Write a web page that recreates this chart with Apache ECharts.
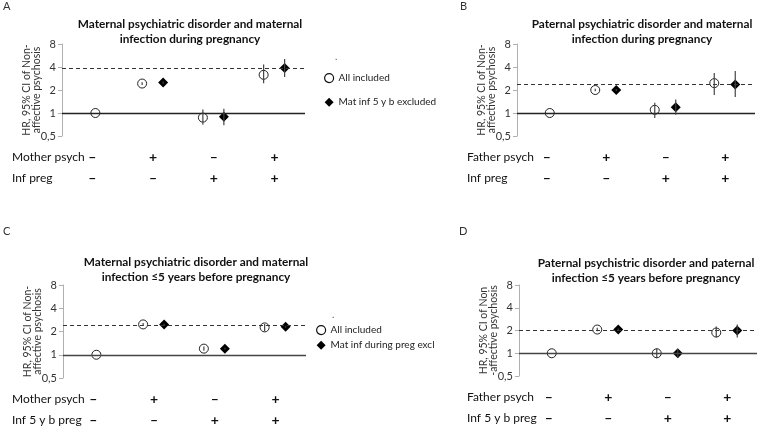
<!DOCTYPE html>
<html><head><meta charset="utf-8">
<script src="https://cdn.jsdelivr.net/npm/echarts@6/dist/echarts.min.js"></script>
<style>html,body{margin:0;padding:0;background:#fff}#c{width:758px;height:427px}</style>
</head><body><div id="c"></div>
<script>
// ---------- data ----------
const categories = ['1', '2', '3', '4'];
const row1Signs = ['–', '+', '–', '+'];
const row2Signs = ['–', '–', '+', '+'];

const panelLetters = ['A', 'B', 'C', 'D'];
const panelTitles = [
  'Maternal psychiatric disorder and maternal\ninfection during pregnancy',
  'Paternal psychiatric disorder and maternal\ninfection during pregnancy',
  'Maternal psychiatric disorder and maternal\ninfection ≤5 years before pregnancy',
  'Paternal psychistric disorder and paternal\ninfection ≤5 years before pregnancy'
];
const yAxisNames = [
  'HR, 95% CI of Non-\naffective psychosis',
  'HR, 95% CI of Non-\naffective psychosis',
  'HR, 95% CI of Non-\naffective psychosis',
  'HR, 95% CI of Non\n-affective psychosis'
];
const row1Labels = ['Mother psych', 'Father psych', 'Mother psych', 'Father psych'];
const row2Labels = ['Inf preg', 'Inf preg', 'Inf 5 y b preg', 'Inf 5 y b preg'];
const legendAllName = 'All included';
const legendExclNames = ['Mat inf 5 y b excluded', null, 'Mat inf during preg excl', null];

// Panel A
const aAllHR   = [1, 2.43, 0.87, 3.16];
const aAllLo   = [null, 2.33, 0.70, 2.45];
const aAllHi   = [null, 2.53, 1.11, 4.30];
const aExclHR  = [null, 2.50, 0.89, 3.88];
const aExclLo  = [null, 2.42, 0.69, 2.95];
const aExclHi  = [null, 2.58, 1.14, 5.10];
const aRef = 3.9;
// Panel B
const bAllHR   = [1, 2.00, 1.10, 2.46];
const bAllLo   = [null, 1.92, 0.86, 1.72];
const bAllHi   = [null, 2.08, 1.36, 3.34];
const bExclHR  = [null, 2.00, 1.19, 2.36];
const bExclLo  = [null, 1.94, 0.95, 1.62];
const bExclHi  = [null, 2.06, 1.50, 3.55];
const bRef = 2.38;
// Panel C
const cAllHR   = [1, 2.47, 1.20, 2.26];
const cAllLo   = [null, 2.36, 1.13, 2.02];
const cAllHi   = [null, 2.58, 1.28, 2.50];
const cExclHR  = [null, 2.47, 1.20, 2.30];
const cExclLo  = [null, 2.42, 1.17, 2.25];
const cExclHi  = [null, 2.52, 1.23, 2.35];
const cRef = 2.4;
// Panel D
const dAllHR   = [1, 2.06, 1.00, 1.88];
const dAllLo   = [null, 1.95, 0.86, 1.62];
const dAllHi   = [null, 2.18, 1.16, 2.26];
const dExclHR  = [null, 2.06, 1.00, 2.00];
const dExclLo  = [null, 2.00, 0.87, 1.62];
const dExclHi  = [null, 2.12, 1.14, 2.40];
const dRef = 2.03;

const panelData = [
  {all: aAllHR, allLo: aAllLo, allHi: aAllHi, ex: aExclHR, exLo: aExclLo, exHi: aExclHi, ref: aRef},
  {all: bAllHR, allLo: bAllLo, allHi: bAllHi, ex: bExclHR, exLo: bExclLo, exHi: bExclHi, ref: bRef},
  {all: cAllHR, allLo: cAllLo, allHi: cAllHi, ex: cExclHR, exLo: cExclLo, exHi: cExclHi, ref: cRef},
  {all: dAllHR, allLo: dAllLo, allHi: dAllHi, ex: dExclHR, exLo: dExclLo, exHi: dExclHi, ref: dRef}
];

// ---------- layout / style ----------
const FONT = 'Lato, "Open Sans", sans-serif';
const grids = [
  {left: 62, top: 44, width: 243, height: 92},
  {left: 517, top: 44, width: 238, height: 92},
  {left: 63, top: 285, width: 243, height: 93},
  {left: 519, top: 285, width: 238, height: 91}
];
const titlePos = [[190, 17], [642, 17], [196, 255], [646, 256]];
const letterPos = [[3, 1], [460, 1], [3, 226], [459, 226]];
const rowLabelX = [12, 467, 12, 467];
const legendPos = [[319, 68], null, [311, 320], null];
const legendGaps = [14, 5];
const dotPos = [[335, 52], null, [332, 310], null];
const ALL_OFF = -11, EX_OFF = 10, FIRST_OFF = 3;

function offFor(i, base) { return i === 0 ? FIRST_OFF : base; }

const option = {
  backgroundColor: '#fff',
  animation: false,
  textStyle: {fontFamily: FONT},
  grid: grids.map(g => Object.assign({containLabel: false}, g)),
  xAxis: [],
  yAxis: [],
  series: [],
  legend: [],
  graphic: []
};

grids.forEach((g, p) => {
  const signAxis = (signs, offset) => ({
    type: 'category', gridIndex: p, data: categories, position: 'bottom', offset: offset,
    boundaryGap: true,
    axisLine: {show: false}, axisTick: {show: false}, splitLine: {show: false},
    axisLabel: {
      margin: 14, fontSize: 14, fontWeight: 'bold', color: '#111', fontFamily: FONT,
      formatter: (v, i) => signs[i]
    }
  });
  option.xAxis.push(signAxis(row1Signs, 0));
  option.xAxis.push(signAxis(row2Signs, 21));
  option.yAxis.push({
    type: 'log', logBase: 2, min: 0.5, max: 8, gridIndex: p,
    name: yAxisNames[p], nameLocation: 'middle', nameGap: 20, nameRotate: 90,
    nameMoveOverlap: false,
    nameTextStyle: {fontSize: 10.5, color: '#333', fontFamily: FONT, lineHeight: 10},
    axisLine: {show: true, lineStyle: {color: '#b0b0b0', width: 1}},
    axisTick: {show: true, inside: false, length: 4, lineStyle: {color: '#b0b0b0'}},
    splitLine: {show: false},
    axisLabel: {fontSize: 11, color: '#333', margin: 6, fontFamily: FONT,
      formatter: v => (Math.abs(v - 0.5) < 1e-6 ? '0,5' : String(Math.round(v)))}
  });

  const d = panelData[p];
  const xIdx = p * 2;
  const lineCol = p < 2 ? '#222' : '#444';

  const errData = [];
  d.all.forEach((v, i) => { if (d.allLo[i] != null) errData.push([i, d.allLo[i], d.allHi[i], offFor(i, ALL_OFF)]); });
  d.ex.forEach((v, i) => { if (d.exLo[i] != null) errData.push([i, d.exLo[i], d.exHi[i], offFor(i, EX_OFF)]); });

  option.series.push({
    type: 'scatter', name: legendAllName, xAxisIndex: xIdx, yAxisIndex: p,
    symbol: 'circle', symbolSize: 9, z: 3,
    itemStyle: {color: '#fff', borderColor: '#222', borderWidth: 1, opacity: 1},
    data: d.all.map((v, i) => v == null ? null : {value: [i, v], symbolOffset: [offFor(i, ALL_OFF), 0]}).filter(x => x),
    markLine: {
      silent: true, symbol: ['none', 'none'], label: {show: false}, animation: false,
      data: [
        {yAxis: 1, lineStyle: {type: 'solid', color: lineCol, width: 1.3}},
        {yAxis: d.ref, lineStyle: {type: [4, 3], color: '#333', width: 1.1}}
      ]
    }
  });
  option.series.push({
    type: 'scatter', name: legendExclNames[p] || ('excl' + p), xAxisIndex: xIdx, yAxisIndex: p,
    symbol: 'diamond', symbolSize: 10, z: 4,
    itemStyle: {color: '#000', opacity: 1},
    data: d.ex.map((v, i) => v == null ? null : {value: [i, v], symbolOffset: [offFor(i, EX_OFF), 0]}).filter(x => x)
  });
  option.series.push({
    type: 'custom', xAxisIndex: xIdx, yAxisIndex: p, z: 5, silent: true,
    data: errData,
    renderItem: (params, api) => {
      const lo = api.coord([api.value(0), api.value(1)]);
      const hi = api.coord([api.value(0), api.value(2)]);
      const x = lo[0] + api.value(3);
      return {type: 'line', shape: {x1: x, y1: lo[1], x2: x, y2: hi[1]},
        style: {stroke: '#444', lineWidth: 1.2}};
    }
  });

  if (legendPos[p]) {
    option.legend.push({
      left: legendPos[p][0], top: legendPos[p][1], orient: 'vertical',
      itemWidth: 9, itemHeight: 9, itemGap: legendGaps[p === 0 ? 0 : 1], selectedMode: false,
      textStyle: {fontSize: 10, color: '#222', fontFamily: FONT},
      data: [
        {name: legendAllName, icon: 'circle', itemStyle: {color: '#fff', borderColor: '#111', borderWidth: 1.2}},
        {name: legendExclNames[p], icon: 'diamond', itemStyle: {color: '#000'}}
      ]
    });
  }
  if (dotPos[p]) {
    option.graphic.push({type: 'text', left: dotPos[p][0], top: dotPos[p][1],
      style: {text: '.', font: '10px ' + FONT, fill: '#555'}});
  }

  option.graphic.push({type: 'text', left: letterPos[p][0], top: letterPos[p][1],
    style: {text: panelLetters[p], font: '11px ' + FONT, fill: '#333'}});
  option.graphic.push({type: 'text', x: titlePos[p][0], y: titlePos[p][1],
    style: {text: panelTitles[p], font: 'bold 11.8px ' + FONT, fill: '#111',
      textAlign: 'center', lineHeight: 15}});
  const b = g.top + g.height;
  option.graphic.push({type: 'text', x: rowLabelX[p], y: b + 21,
    style: {text: row1Labels[p], font: '12px ' + FONT, fill: '#111', textVerticalAlign: 'middle'}});
  option.graphic.push({type: 'text', x: rowLabelX[p], y: b + 42,
    style: {text: row2Labels[p], font: '12px ' + FONT, fill: '#111', textVerticalAlign: 'middle'}});
});

const chart = echarts.init(document.getElementById('c'), null, {renderer: 'canvas'});
chart.setOption(option);
</script>
</body></html>
